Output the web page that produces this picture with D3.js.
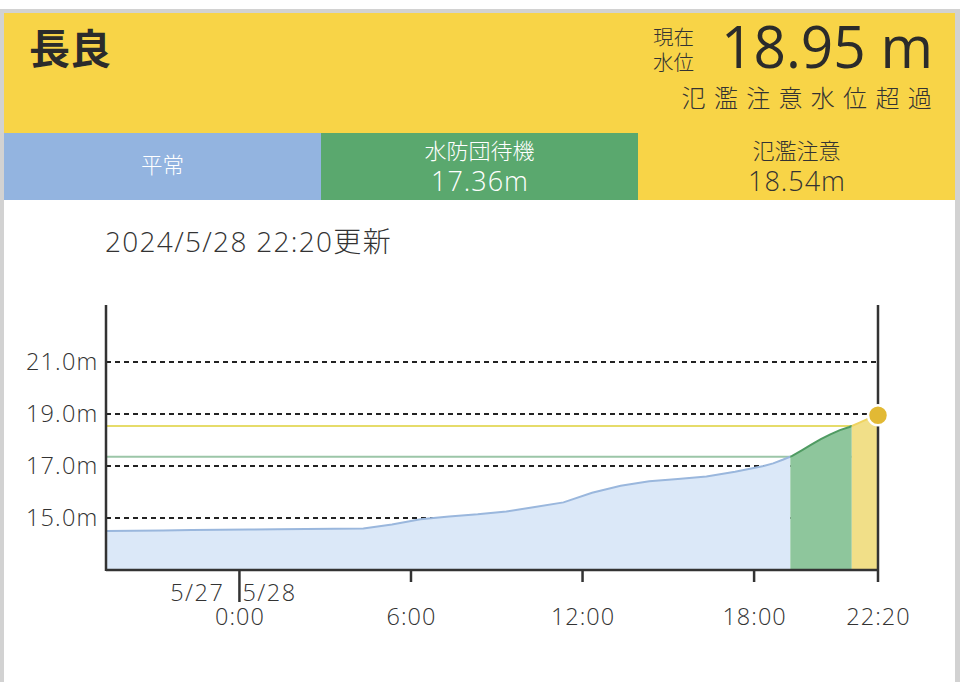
<!DOCTYPE html>
<html>
<head>
<meta charset="utf-8">
<script src="https://cdn.jsdelivr.net/npm/d3@7"></script>
<style>
  html, body { margin: 0; padding: 0; background: #fff; }
  svg { display: block; font-family: "Open Sans", "Noto Sans CJK JP", sans-serif; font-weight: 300; }
</style>
</head>
<body>
<svg id="chart" width="960" height="682"></svg>
<script>
// station / current status
const stationName = "長良";
const currentLevel = 18.95;
const currentStatus = "氾濫注意水位超過";
const updatedLabel = "2024/5/28 22:20更新";

// stage bands
const stageNames = ["平常", "水防団待機", "氾濫注意"];
const stageLevels = [null, 17.36, 18.54];

// water level readings (m)
const times = [
  "2024-05-27T19:20", "2024-05-27T20:20", "2024-05-27T21:20", "2024-05-27T22:20", "2024-05-27T23:20",
  "2024-05-28T00:20", "2024-05-28T01:20", "2024-05-28T02:20", "2024-05-28T03:20", "2024-05-28T04:20",
  "2024-05-28T05:20", "2024-05-28T06:20", "2024-05-28T07:20", "2024-05-28T08:20", "2024-05-28T09:20",
  "2024-05-28T10:20", "2024-05-28T11:20", "2024-05-28T12:20", "2024-05-28T13:20", "2024-05-28T14:20",
  "2024-05-28T15:20", "2024-05-28T16:20", "2024-05-28T17:20", "2024-05-28T18:20", "2024-05-28T18:40",
  "2024-05-28T19:00", "2024-05-28T19:20", "2024-05-28T19:40", "2024-05-28T20:00", "2024-05-28T20:20",
  "2024-05-28T20:40", "2024-05-28T21:00", "2024-05-28T21:20", "2024-05-28T21:40", "2024-05-28T22:00",
  "2024-05-28T22:20"
];
const levels = [
  14.50, 14.51, 14.52, 14.54, 14.55,
  14.56, 14.57, 14.58, 14.59, 14.60,
  14.75, 14.95, 15.06, 15.14, 15.25,
  15.42, 15.60, 15.97, 16.24, 16.41,
  16.50, 16.60, 16.78, 17.00, 17.10,
  17.24, 17.39, 17.60, 17.82, 18.03,
  18.22, 18.38, 18.50, 18.66, 18.82,
  18.95
];

// axes
const yTicks = [15, 17, 19, 21];
const xTickTimes = ["2024-05-28T00:00", "2024-05-28T06:00", "2024-05-28T12:00", "2024-05-28T18:00", "2024-05-28T22:20"];
const xTickLabels = ["0:00", "6:00", "12:00", "18:00", "22:20"];

const parse = d3.timeParse("%Y-%m-%dT%H:%M");
const data = times.map((t, i) => ({date: parse(t), value: levels[i]}));

const svg = d3.select("#chart");
const W = 960, H = 682;
const ink = "#333";

// page frame
svg.append("rect").attr("width", W).attr("height", H).attr("fill", "#fff");
svg.append("rect").attr("x", 0).attr("y", 9).attr("width", W).attr("height", H - 9).attr("fill", "#d2d2d2");
svg.append("rect").attr("x", 4).attr("y", 13).attr("width", 951).attr("height", H - 13).attr("fill", "#fff");

// header
const yellow = "#f8d447";
svg.append("rect").attr("x", 4).attr("y", 13).attr("width", 951).attr("height", 120).attr("fill", yellow);
svg.append("text").attr("x", 29).attr("y", 64).attr("font-size", 41).attr("font-weight", 700)
  .attr("font-family", "Noto Sans CJK JP").attr("fill", "#2b2b2b").text(stationName);
svg.append("text").attr("x", 653).attr("y", 45).attr("font-size", 20.5).attr("fill", ink).text("現在");
svg.append("text").attr("x", 653).attr("y", 70).attr("font-size", 20.5).attr("fill", ink).text("水位");
svg.append("text").attr("x", 933).attr("y", 68).attr("text-anchor", "end").attr("font-size", 58)
  .attr("font-weight", 400).attr("fill", "#2b2b2b").attr("textLength", 212).attr("lengthAdjust", "spacingAndGlyphs")
  .text(currentLevel.toFixed(2) + " m");
svg.append("text").attr("x", 940).attr("y", 107).attr("text-anchor", "end").attr("font-size", 24)
  .attr("letter-spacing", 8.3).attr("fill", ink).text(currentStatus);

// stage bands
const bandColors = ["#93b4e0", "#5aa86e", yellow];
const bandText = ["#fff", "#fff", ink];
const bandX = d3.scaleBand().domain(stageNames).range([4, 955]);
const band = svg.append("g").selectAll("g").data(stageNames).join("g")
  .attr("transform", d => `translate(${bandX(d)},133)`);
band.append("rect").attr("width", bandX.bandwidth()).attr("height", 67)
  .attr("fill", (d, i) => bandColors[i]);
band.each(function(d, i) {
  const g = d3.select(this);
  const cx = bandX.bandwidth() / 2;
  if (stageLevels[i] == null) {
    g.append("text").attr("x", cx).attr("y", 40).attr("text-anchor", "middle")
      .attr("font-size", 21.5).attr("fill", bandText[i]).text(d);
  } else {
    g.append("text").attr("x", cx).attr("y", 26).attr("text-anchor", "middle")
      .attr("font-size", 22).attr("fill", bandText[i]).text(d);
    g.append("text").attr("x", cx + 0.5).attr("y", 58).attr("text-anchor", "middle")
      .attr("font-size", 27).attr("letter-spacing", 1).attr("fill", bandText[i])
      .text(stageLevels[i].toFixed(2) + "m");
  }
});

svg.append("text").attr("x", 105).attr("y", 252).attr("font-size", 28).attr("letter-spacing", 1.3)
  .attr("fill", ink).text(updatedLabel);

// chart
const plotL = 106, plotR = 878, plotT = 305, plotB = 570;
const x = d3.scaleTime().domain(d3.extent(data, d => d.date)).range([plotL, plotR]);
const y = d3.scaleLinear().domain([13, 13 + (plotB - plotT) / 26]).range([plotB, plotT]);

// dashed grid
svg.append("g").selectAll("line").data(yTicks).join("line")
  .attr("x1", plotL).attr("x2", plotR).attr("y1", d => y(d)).attr("y2", d => y(d))
  .attr("stroke", "#222").attr("stroke-width", 2).attr("stroke-dasharray", "5,4");

// threshold lines
const thrColors = [null, "#9cc6a8", "#e6dc6a"];
svg.append("g").selectAll("line").data(stageLevels.filter(d => d != null)).join("line")
  .attr("x1", plotL).attr("x2", plotR).attr("y1", d => y(d)).attr("y2", d => y(d))
  .attr("stroke", (d, i) => thrColors[i + 1]).attr("stroke-width", 2);

// x position where the series first reaches a level
function crossing(level) {
  for (let i = 1; i < data.length; i++) {
    const a = data[i - 1], b = data[i];
    if (a.value < level && b.value >= level) {
      const f = (level - a.value) / (b.value - a.value);
      return x(a.date) + f * (x(b.date) - x(a.date));
    }
  }
  return plotR;
}
const cuts = [plotL, crossing(stageLevels[1]), crossing(stageLevels[2]), plotR];
const fills = ["#dbe8f8", "#8ec69c", "#f1df88"];
const strokes = ["#9ab7dd", "#4f9b62", "#efd460"];

const area = d3.area().x(d => x(d.date)).y0(plotB).y1(d => y(d.value));
const line = d3.line().x(d => x(d.date)).y(d => y(d.value));

const defs = svg.append("defs");
[0, 1, 2].forEach(i => {
  defs.append("clipPath").attr("id", "seg" + i).append("rect")
    .attr("x", cuts[i]).attr("y", plotT - 20).attr("width", cuts[i + 1] - cuts[i]).attr("height", plotB - plotT + 20);
  const g = svg.append("g").attr("clip-path", `url(#seg${i})`);
  g.append("path").datum(data).attr("d", area).attr("fill", fills[i]);
  g.append("path").datum(data).attr("d", line).attr("fill", "none")
    .attr("stroke", strokes[i]).attr("stroke-width", 2);
});

// axes
svg.append("line").attr("x1", plotL).attr("x2", plotL).attr("y1", plotT).attr("y2", plotB + 1)
  .attr("stroke", ink).attr("stroke-width", 2.5);
svg.append("line").attr("x1", plotL).attr("x2", plotR).attr("y1", plotB).attr("y2", plotB)
  .attr("stroke", ink).attr("stroke-width", 2.5);
svg.append("line").attr("x1", plotR).attr("x2", plotR).attr("y1", plotT).attr("y2", plotB + 12)
  .attr("stroke", ink).attr("stroke-width", 2.5);

svg.append("g").selectAll("text").data(yTicks).join("text")
  .attr("x", 98.5).attr("y", d => y(d)).attr("dy", "0.36em").attr("text-anchor", "end")
  .attr("font-size", 23.5).attr("letter-spacing", 1.2).attr("fill", ink).text(d => d.toFixed(1) + "m");

const xt = xTickTimes.map(parse);
svg.append("g").selectAll("line").data(xt.slice(0, 4)).join("line")
  .attr("x1", d => x(d)).attr("x2", d => x(d))
  .attr("y1", plotB).attr("y2", (d, i) => i === 0 ? plotB + 32 : plotB + 12)
  .attr("stroke", ink).attr("stroke-width", 2.5);
svg.append("g").selectAll("text").data(xt).join("text")
  .attr("x", d => x(d) + 0.5).attr("y", 625).attr("text-anchor", "middle")
  .attr("font-size", 23.5).attr("letter-spacing", 1).attr("fill", ink).text((d, i) => xTickLabels[i]);

const dayX = x(xt[0]);
svg.append("text").attr("x", dayX - 15).attr("y", 601).attr("text-anchor", "end")
  .attr("font-size", 23.5).attr("letter-spacing", 1.5).attr("fill", ink)
  .text(d3.timeFormat("%-m/%-d")(d3.timeDay.offset(xt[0], -1)));
svg.append("text").attr("x", dayX + 3).attr("y", 601).attr("text-anchor", "start")
  .attr("font-size", 23.5).attr("letter-spacing", 1.5).attr("fill", ink)
  .text(d3.timeFormat("%-m/%-d")(xt[0]));

// current level marker
const last = data[data.length - 1];
svg.append("circle").attr("cx", x(last.date)).attr("cy", y(last.value)).attr("r", 10)
  .attr("fill", "#e2b934").attr("stroke", "#fff").attr("stroke-width", 2.5);
</script>
</body>
</html>
